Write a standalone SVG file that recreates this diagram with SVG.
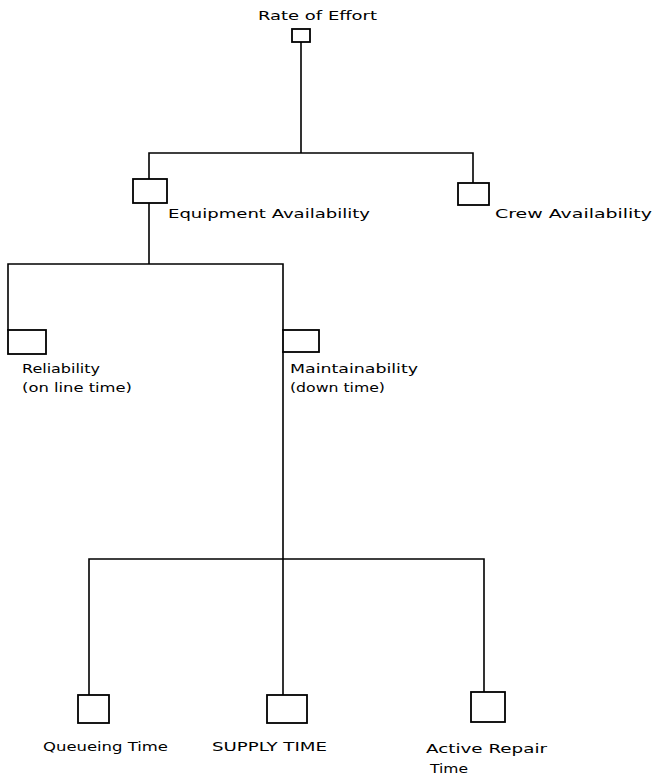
<svg xmlns="http://www.w3.org/2000/svg" width="656" height="777" viewBox="0 0 656 777">
<style>
.ln{fill:none;stroke:#000;stroke-width:1.6;stroke-linecap:square}
.bx{fill:#fff;stroke:#000;stroke-width:1.8}
.t{font-family:"DejaVu Sans","Liberation Sans",sans-serif;font-size:13px;fill:#000}
</style>
<rect width="656" height="777" fill="#fff"/>
<g id="connectors">
<path class="ln" d="M301,42 V153 M149,153 H473 M149,153 V179 M473,153 V183"/>
<path class="ln" d="M149,203 V264 M8,264 H283 M8,264 V330 M283,264 V330"/>
<path class="ln" d="M283,352 V559 M89,559 H484 M89,559 V695 M283,559 V695 M484,559 V692"/>
</g>
<g id="rate-of-effort">
<rect class="bx" x="292" y="29" width="18" height="13"/>
<text class="t" x="258" y="20" textLength="119" lengthAdjust="spacingAndGlyphs">Rate of Effort</text>
</g>
<g id="equipment-availability">
<rect class="bx" x="133" y="179" width="34" height="24"/>
<text class="t" x="168" y="218" textLength="202" lengthAdjust="spacingAndGlyphs">Equipment Availability</text>
</g>
<g id="crew-availability">
<rect class="bx" x="458" y="183" width="31" height="22"/>
<text class="t" x="495" y="218" textLength="157" lengthAdjust="spacingAndGlyphs">Crew Availability</text>
</g>
<g id="reliability">
<rect class="bx" x="8" y="330" width="38" height="24"/>
<text class="t" x="22" y="373" textLength="78" lengthAdjust="spacingAndGlyphs">Reliability</text>
<text class="t" x="22" y="392" textLength="110" lengthAdjust="spacingAndGlyphs">(on line time)</text>
</g>
<g id="maintainability">
<rect class="bx" x="283" y="330" width="36" height="22"/>
<text class="t" x="290" y="373" textLength="128" lengthAdjust="spacingAndGlyphs">Maintainability</text>
<text class="t" x="290" y="392" textLength="95" lengthAdjust="spacingAndGlyphs">(down time)</text>
</g>
<g id="queueing-time">
<rect class="bx" x="78" y="695" width="31" height="28"/>
<text class="t" x="43" y="751" textLength="125" lengthAdjust="spacingAndGlyphs">Queueing Time</text>
</g>
<g id="supply-time">
<rect class="bx" x="267" y="695" width="40" height="28"/>
<text class="t" x="212" y="751" textLength="115" lengthAdjust="spacingAndGlyphs">SUPPLY TIME</text>
</g>
<g id="active-repair-time">
<rect class="bx" x="471" y="692" width="34" height="30"/>
<text class="t" x="426" y="753" textLength="121" lengthAdjust="spacingAndGlyphs">Active Repair</text>
<text class="t" x="430" y="773" textLength="38" lengthAdjust="spacingAndGlyphs">Time</text>
</g>
</svg>
